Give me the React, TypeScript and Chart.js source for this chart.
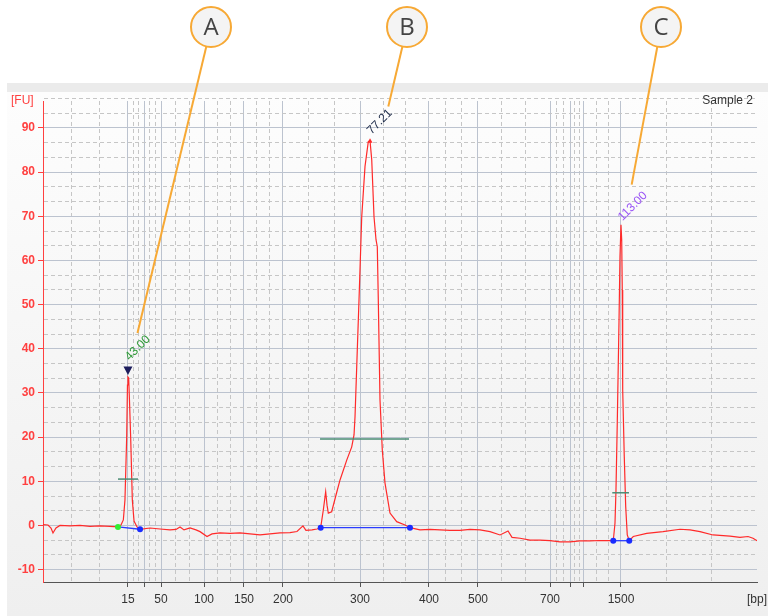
import React, { useEffect, useRef } from 'react';
import { Chart, registerables } from 'chart.js';

Chart.register(...registerables);

// ---- data -------------------------------------------------------------
// ladder bands (bp) and their migration position on the run axis (0–100 across the plot)
const ladderBp = [15, 25, 50, 100, 150, 200, 300, 400, 500, 700, 850, 1000, 1500];
const ladderPos = [11.90, 14.15, 16.53, 22.55, 28.15, 33.61, 44.40, 54.06, 60.92, 71.01, 73.81, 75.77, 80.95];
const ladderLabelShown = [true, false, true, true, true, true, true, true, true, true, false, false, true];

const fuMajorTicks = [-10, 0, 10, 20, 30, 40, 50, 60, 70, 80, 90];

// electropherogram trace: migration position vs fluorescence [FU]
const traceX = [
  0, 0.70, 1.12, 1.40, 1.82, 2.38, 3.78, 5.18, 6.58, 7.98,
  9.38, 10.50, 10.92, 11.25, 11.48, 11.72, 11.83, 11.90, 12.00, 12.11,
  12.28, 12.51, 12.75, 13.17, 13.59, 14.99, 16.39, 17.79, 18.63, 19.19,
  19.75, 20.59, 21.43, 21.99, 22.97, 23.67, 24.79, 26.19, 27.59, 28.99,
  30.39, 31.79, 33.19, 34.59, 35.57, 36.41, 36.83, 37.68, 38.38, 38.89,
  39.26, 39.59, 39.78, 39.96, 40.43, 41.04, 41.60, 42.54, 43.24, 43.56,
  43.70, 43.94, 44.26, 44.64, 45.10, 45.56, 45.80, 46.04, 46.36, 46.64,
  46.82, 46.96, 47.20, 47.52, 47.90, 48.60, 49.54, 50.70, 51.40, 52.80,
  54.20, 55.60, 57.00, 58.40, 59.80, 61.20, 62.61, 64.01, 65.13, 65.69,
  66.81, 68.21, 69.61, 71.01, 72.41, 73.81, 75.21, 76.61, 78.01, 79.87,
  80.11, 80.25, 80.43, 80.67, 80.81, 80.95, 81.05, 81.13, 81.19, 81.41,
  81.61, 81.83, 82.11, 82.67, 84.55, 86.83, 89.22, 90.62, 92.02, 93.84,
  96.22, 97.62, 98.74, 99.44, 100.00,
];
const traceFU = [
  0.18, 0.1, -0.57, -1.7, -0.57, 0, -0.1, 0, -0.2, -0.1,
  -0.2, -0.34, 0.1, 1.25, 5.8, 19.9, 31.8, 33.6, 33.4, 28.4,
  19.9, 5.8, 1.0, -0.34, -0.86, -0.57, -0.8, -1.0, -0.9, -0.34,
  -1.0, -0.57, -1.0, -1.4, -2.5, -1.9, -1.7, -1.8, -1.7, -1.9,
  -2.15, -1.9, -1.7, -1.6, -1.36, -0.1, -1.1, -1.0, -0.8, -0.5,
  3.5, 7.65, 4.6, 2.8, 3.1, 6.9, 10.3, 14.8, 17.8, 20.5,
  24.6, 36.0, 51.1, 69.9, 81.3, 86.9, 87.1, 82.8, 69.9, 64.7,
  63.1, 51.1, 28.4, 17.1, 9.6, 2.8, 0.86, 0.1, -0.5, -1.0,
  -0.9, -1.0, -1.1, -1.1, -0.9, -1.0, -1.4, -2.15, -1.25, -2.7,
  -2.9, -3.3, -3.3, -3.45, -3.7, -3.7, -3.5, -3.5, -3.4, -3.45,
  0.5, 8.0, 23.2, 45.9, 60.9, 68.1, 64.7, 53.3, 30.7, 15.6,
  4.3, -2.15, -3.45, -2.5, -1.8, -1.4, -0.86, -1.0, -1.4, -2.15,
  -2.4, -2.7, -2.5, -2.9, -3.45,
];

// peaks
const peakNames = ['A', 'B', 'C'];
const peakX = [11.90, 45.80, 80.95];
const peakFU = [33.6, 87.1, 68.1];
const peakLabels = ['43.00', '77.21', '113.00'];

// peak baselines (start / end)
const baseStartX = [10.50, 38.89, 79.87];
const baseStartFU = [-0.34, -0.5, -3.45];
const baseEndX = [13.59, 51.40, 82.11];
const baseEndFU = [-0.86, -0.5, -3.45];

// peak width bars
const widthStartX = [10.50, 38.80, 79.73];
const widthEndX = [13.31, 51.26, 82.07];
const widthFU = [10.5, 19.6, 7.4];

// ---- styles -----------------------------------------------------------
const FONT = "'Liberation Sans', Arial, sans-serif";
const RED = '#ff2a2a';
const AXIS_RED = '#ff4040';
const MAJOR_GRID = '#bcc3cf';
const MINOR_GRID = '#c6c6c6';
const labelColors = ['#2f9a38', '#1d2a48', '#9a55f5'];
const labelOffsets = [[1.5, -16], [1.4, -6], [1.4, -3.3]];
const callout = {
  centers: [[211, 27], [407, 27], [661, 27]],
  radius: 20,
  ends: [[9.5, -44], [18.3, -34.3], [10.7, -40]],
};

// build tick lists (major at ladder / 10 FU, minor at thirds)
const xBounds = [0, ...ladderPos, 100];
const xTicks: { value: number; major: boolean; label: string }[] = [];
for (let i = 0; i < xBounds.length - 1; i++) {
  const a = xBounds[i], b = xBounds[i + 1];
  if (i > 0) {
    const k = i - 1;
    xTicks.push({ value: a, major: true, label: ladderLabelShown[k] ? String(ladderBp[k]) : '' });
  }
  xTicks.push({ value: a + (b - a) / 3, major: false, label: '' });
  xTicks.push({ value: a + (2 * (b - a)) / 3, major: false, label: '' });
}
const yTicks: { value: number; major: boolean; label: string }[] = [];
fuMajorTicks.forEach((v) => {
  yTicks.push({ value: v, major: true, label: String(v) });
  yTicks.push({ value: v + 10 / 3, major: false, label: '' });
  yTicks.push({ value: v + 20 / 3, major: false, label: '' });
});

const isMajor = (c: any) => !!(c && c.tick && c.tick.major);

const decorPlugin = {
  id: 'decor',
  beforeDraw(chart: any) {
    const { ctx, width, height } = chart;
    ctx.save();
    ctx.fillStyle = '#ffffff';
    ctx.fillRect(0, 0, width, height);
    ctx.fillStyle = '#ebebeb';
    ctx.fillRect(7, 83, width - 7, 9);
    const g = ctx.createLinearGradient(0, 92, 0, height);
    g.addColorStop(0, '#fdfdfd');
    g.addColorStop(1, '#efefef');
    ctx.fillStyle = g;
    ctx.fillRect(7, 92, width - 7, height - 92);
    ctx.restore();
  },
  afterDatasetsDraw(chart: any) {
    const { ctx } = chart;
    const xs = chart.scales.x, ys = chart.scales.y;
    ctx.save();
    // marker triangle above peak A
    const ax = xs.getPixelForValue(peakX[0]);
    const ay = ys.getPixelForValue(peakFU[0]);
    ctx.fillStyle = '#1c1c5c';
    ctx.beginPath();
    ctx.moveTo(ax - 4.5, ay - 10.5);
    ctx.lineTo(ax + 4.5, ay - 10.5);
    ctx.lineTo(ax, ay - 2);
    ctx.closePath();
    ctx.fill();
    // small red tip marker at peak B
    const bx = xs.getPixelForValue(peakX[1]);
    const by = ys.getPixelForValue(peakFU[1]);
    ctx.fillStyle = RED;
    ctx.beginPath();
    ctx.moveTo(bx - 2.5, by + 2);
    ctx.lineTo(bx + 2.5, by + 2);
    ctx.lineTo(bx, by - 2.5);
    ctx.closePath();
    ctx.fill();
    // rotated peak labels
    ctx.font = `12px ${FONT}`;
    ctx.textAlign = 'left';
    ctx.textBaseline = 'alphabetic';
    peakLabels.forEach((t, i) => {
      const px = xs.getPixelForValue(peakX[i]) + labelOffsets[i][0];
      const py = ys.getPixelForValue(peakFU[i]) + labelOffsets[i][1];
      ctx.save();
      ctx.translate(px, py);
      ctx.rotate(-Math.PI / 4);
      ctx.fillStyle = labelColors[i];
      ctx.fillText(t, 0, 0);
      ctx.restore();
    });
    ctx.restore();
  },
  afterDraw(chart: any) {
    const { ctx } = chart;
    const xs = chart.scales.x, ys = chart.scales.y;
    ctx.save();
    ctx.font = `12px ${FONT}`;
    ctx.fillStyle = AXIS_RED;
    ctx.textAlign = 'left';
    ctx.textBaseline = 'middle';
    ctx.fillText('[FU]', 11, 101);
    ctx.fillStyle = '#333';
    ctx.textAlign = 'right';
    ctx.fillText('Sample 2', 753, 101);
    ctx.fillText('[bp]', 767, 600);
    // callouts
    peakNames.forEach((name, i) => {
      const [cx, cy] = callout.centers[i];
      const ex = xs.getPixelForValue(peakX[i]) + callout.ends[i][0];
      const ey = ys.getPixelForValue(peakFU[i]) + callout.ends[i][1];
      const dx = ex - cx, dy = ey - cy;
      const len = Math.hypot(dx, dy);
      const sx = cx + (callout.radius * dx) / len;
      const sy = cy + (callout.radius * dy) / len;
      ctx.strokeStyle = '#f7a935';
      ctx.lineWidth = 2;
      ctx.beginPath();
      ctx.moveTo(sx, sy);
      ctx.lineTo(ex, ey);
      ctx.stroke();
      ctx.beginPath();
      ctx.arc(cx, cy, callout.radius, 0, Math.PI * 2);
      ctx.fillStyle = '#f4f4f4';
      ctx.fill();
      ctx.stroke();
      ctx.fillStyle = '#444';
      ctx.font = `24px 'Open Sans', ${FONT}`;
      ctx.textAlign = 'center';
      ctx.textBaseline = 'middle';
      ctx.fillText(name, cx, cy + 1);
    });
    ctx.restore();
  },
};

export default function App() {
  const ref = useRef<HTMLCanvasElement | null>(null);

  useEffect(() => {
    const canvas = ref.current;
    if (!canvas) return;
    const pts = (xa: number[], ya: number[]) => xa.map((x, i) => ({ x, y: ya[i] }));
    const datasets: any[] = [
      {
        label: 'trace',
        data: pts(traceX, traceFU),
        borderColor: RED,
        borderWidth: 1.2,
        pointRadius: 0,
        tension: 0,
        order: 3,
      },
    ];
    peakNames.forEach((_, i) => {
      datasets.push({
        label: 'width' + i,
        data: [
          { x: widthStartX[i], y: widthFU[i] },
          { x: widthEndX[i], y: widthFU[i] },
        ],
        borderColor: '#4a8c74',
        borderWidth: 1.5,
        pointRadius: 0,
        order: 2,
      });
      datasets.push({
        label: 'base' + i,
        data: [
          { x: baseStartX[i], y: baseStartFU[i] },
          { x: baseEndX[i], y: baseEndFU[i] },
        ],
        borderColor: '#2a3cff',
        borderWidth: 1.3,
        pointRadius: 3,
        pointBorderWidth: 0,
        pointBackgroundColor: i === 0 ? ['#33ee33', '#1a2cff'] : ['#1a2cff', '#1a2cff'],
        order: 1,
      });
    });

    const chart = new Chart(canvas, {
      type: 'line',
      data: { datasets },
      plugins: [decorPlugin],
      options: {
        animation: false,
        responsive: false,
        events: [],
        layout: { padding: { left: 0, right: 11, top: 101, bottom: 0 } },
        plugins: { legend: { display: false }, tooltip: { enabled: false }, title: { display: false } },
        scales: {
          x: {
            type: 'linear',
            min: 0,
            max: 100,
            afterBuildTicks: (s: any) => {
              s.ticks = xTicks.map((t) => ({ value: t.value, major: t.major }));
            },
            afterFit: (s: any) => {
              s.height = 34;
              s.paddingLeft = 0;
              s.paddingRight = 0;
            },
            ticks: {
              autoSkip: false,
              maxRotation: 0,
              minRotation: 0,
              padding: 5,
              color: '#333',
              font: { family: FONT, size: 12 },
              callback: (_v: any, i: number) => xTicks[i]?.label ?? '',
            },
            grid: {
              color: (c: any) => (isMajor(c) ? MAJOR_GRID : MINOR_GRID),
              lineWidth: 1,
              tickLength: 5,
              tickColor: (c: any) => (isMajor(c) ? '#555' : 'rgba(0,0,0,0)'),
            },
            border: {
              color: '#555',
              width: 1,
              dash: (c: any) => (c && c.tick && !c.tick.major ? [4, 3] : []),
            },
          },
          y: {
            type: 'linear',
            min: -12.8,
            max: 96.1,
            afterBuildTicks: (s: any) => {
              s.ticks = yTicks.map((t) => ({ value: t.value, major: t.major }));
            },
            afterFit: (s: any) => {
              s.width = 43;
            },
            ticks: {
              autoSkip: false,
              padding: 3,
              color: AXIS_RED,
              font: { family: FONT, size: 12, weight: 'bold' },
              callback: (_v: any, i: number) => yTicks[i]?.label ?? '',
            },
            grid: {
              color: (c: any) => (isMajor(c) ? MAJOR_GRID : MINOR_GRID),
              lineWidth: 1,
              tickLength: 5,
              tickColor: (c: any) => (isMajor(c) ? AXIS_RED : 'rgba(0,0,0,0)'),
            },
            border: {
              color: AXIS_RED,
              width: 1,
              dash: (c: any) => (c && c.tick && !c.tick.major ? [4, 3] : []),
            },
          },
        },
      } as any,
    });
    return () => chart.destroy();
  }, []);

  return (
    <div style={{ position: 'fixed', left: 0, top: 0, width: 768, height: 616, background: '#fff' }}>
      <canvas ref={ref} width={768} height={616} style={{ display: 'block', width: 768, height: 616 }} />
    </div>
  );
}
